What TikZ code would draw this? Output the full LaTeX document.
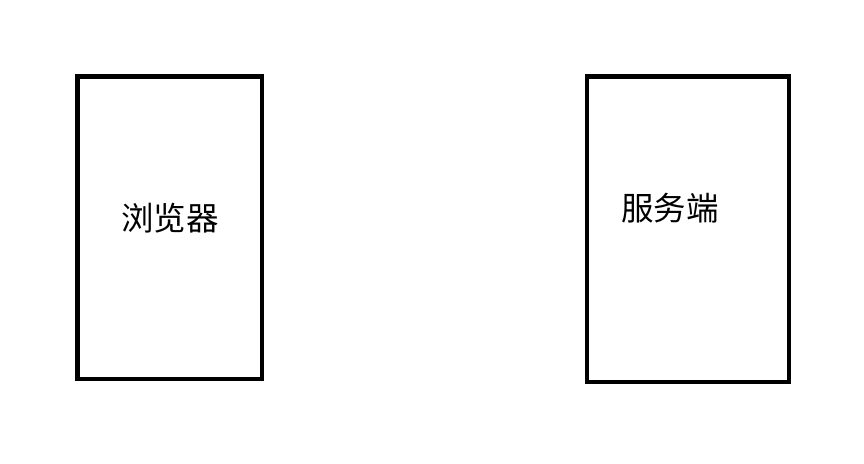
\documentclass[tikz,border=0pt]{standalone}
\usepackage{fontspec}
\newfontfamily\cjk{Noto Sans CJK SC}
\begin{document}
\begin{tikzpicture}[x=1pt,y=1pt,
  box/.style={draw=black,line width=4.5pt,fill=white},
  lbl/.style={font=\cjk\fontsize{32.5}{38}\selectfont,inner sep=0pt}]
\useasboundingbox (0,0) rectangle (864,463);
\fill[white] (0,0) rectangle (864,463);
\draw[box] (77.5,386.5) rectangle (262,84);
\draw[box] (587,386.5) rectangle (789,81);
\node[lbl] (browser) at (170,245) {浏览器};
\node[lbl] (server) at (670,255) {服务端};
\end{tikzpicture}
\end{document}
